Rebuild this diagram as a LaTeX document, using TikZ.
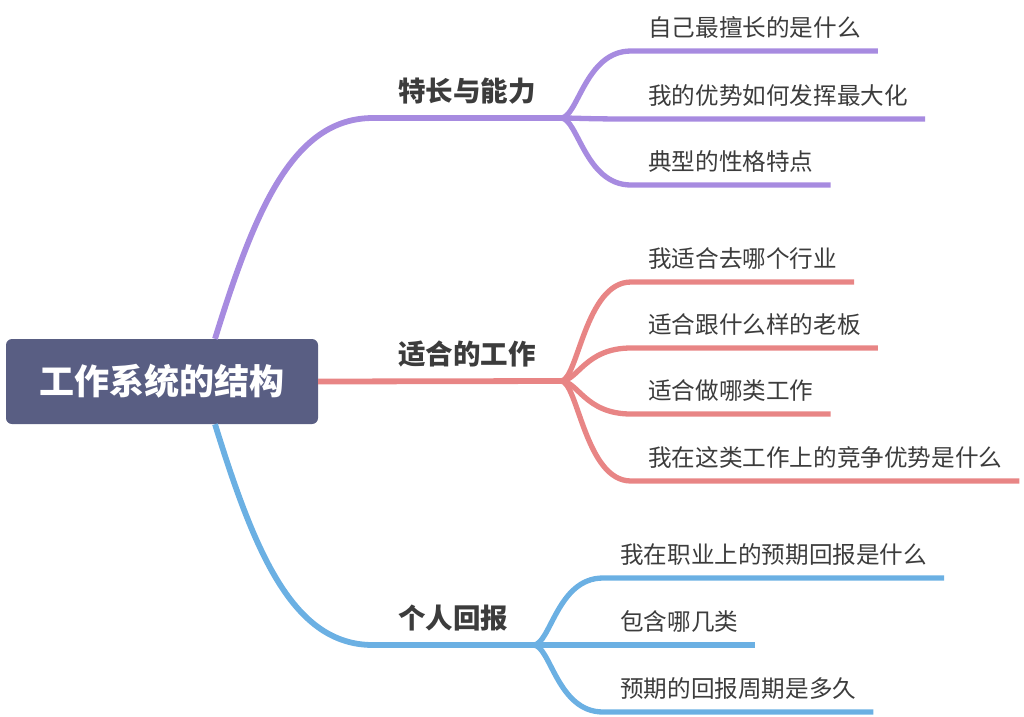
\documentclass[tikz,border=0pt]{standalone}
\usepackage{fontspec}
\setmainfont{Noto Sans CJK SC}
\usetikzlibrary{calc}

\definecolor{rootfill}{HTML}{595E83}
\definecolor{labelgray}{HTML}{3C3C3C}
\definecolor{abilitycol}{HTML}{A78BE0}
\definecolor{fitcol}{HTML}{E88585}
\definecolor{rewardcol}{HTML}{6BB0E3}

\tikzstyle{root}   = [fill=rootfill,rounded corners=6pt,text=white,minimum width=312pt,minimum height=85pt,inner sep=0pt,font=\fontsize{35}{40}\selectfont\bfseries]
\tikzstyle{branch} = [anchor=south west,inner xsep=25pt,inner ysep=0pt,text depth=16pt,text=labelgray,font=\fontsize{27.5}{30}\selectfont\bfseries]
\tikzstyle{leaf}   = [anchor=south west,inner xsep=17pt,inner ysep=0pt,text depth=14pt,text=labelgray,font=\fontsize{23.6}{26}\selectfont]
\tikzstyle{trunk}  = [line width=5.8pt]
\tikzstyle{twig}   = [line width=5.3pt]

\begin{document}
\begin{tikzpicture}[x=1pt,y=-1pt]
\useasboundingbox (0,0) rectangle (1024,716);
% Draw the central topic
\node[root] (root) at (162,381.5) {工作系统的结构};
% Draw the three main topics
\node[branch] (ability) at (373,118) {特长与能力};
\node[branch] (fit)     at (373,381) {适合的工作};
\node[branch] (reward)  at (373,645) {个人回报};
\draw[trunk,abilitycol] ($(root.north)+(53,0)$) .. controls +(40,-129) and +(-80,0) .. (ability.south west) -- (ability.south east);
\draw[trunk,fitcol] (root.east) -- (fit.south east);
\draw[trunk,rewardcol] ($(root.south)+(53,0)$) .. controls +(40,129) and +(-80,0) .. (reward.south west) -- (reward.south east);
% Draw the subtopics of each main topic
\foreach \i/\y/\t in {1/51/自己最擅长的是什么, 2/119/我的优势如何发挥最大化, 3/185/典型的性格特点}
{
  \node[leaf] (ability-\i) at (631,\y) {\t};
  \draw[twig,abilitycol] (ability.south east) .. controls +(17,0) and +(-46,0) .. (ability-\i.south west) -- (ability-\i.south east);
}
\foreach \i/\y/\t in {1/282/我适合去哪个行业, 2/348/适合跟什么样的老板, 3/414/适合做哪类工作, 4/481/我在这类工作上的竞争优势是什么}
{
  \node[leaf] (fit-\i) at (631,\y) {\t};
  \draw[twig,fitcol] (fit.south east) .. controls +(17,0) and +(-46,0) .. (fit-\i.south west) -- (fit-\i.south east);
}
\foreach \i/\y/\t in {1/578/我在职业上的预期回报是什么, 2/645/包含哪几类, 3/712/预期的回报周期是多久}
{
  \node[leaf] (reward-\i) at (603,\y) {\t};
  \draw[twig,rewardcol] (reward.south east) .. controls +(17,0) and +(-46,0) .. (reward-\i.south west) -- (reward-\i.south east);
}
\end{tikzpicture}
\end{document}
